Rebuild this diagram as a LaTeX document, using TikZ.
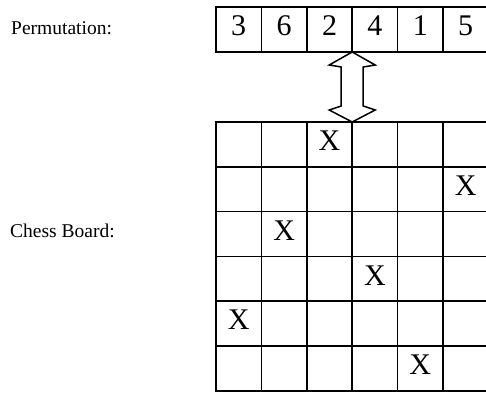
\documentclass[tikz,border=0pt]{standalone}
\usepackage{fontspec}
\setmainfont{Liberation Serif}
\usetikzlibrary{positioning,calc}
\begin{document}
\begin{tikzpicture}[x=1pt, y=-1pt]
    % Cell styles
    \tikzstyle{perm cell}=[draw, line width=1.5pt, minimum width=45.4pt, minimum height=45pt, inner sep=0pt, outer sep=0pt, text depth=7pt, font=\fontsize{30}{30}\selectfont]
    \tikzstyle{board cell}=[perm cell, minimum height=44.8pt]
    \tikzstyle{side label}=[anchor=base west, inner sep=0pt, font=\fontsize{19.5}{20}\selectfont]

    \useasboundingbox (0,0) rectangle (486,393);

    % --- Labels ---
    \node[side label] (perm label) at (11,35) {Permutation:};
    \node[side label] (board label) at (10,237) {Chess Board:};

    % --- Permutation row ---
    \node[perm cell] (p1) at (238.7,29.5) {3};
    \node[perm cell, right=0pt of p1] (p2) {6};
    \node[perm cell, right=0pt of p2] (p3) {2};
    \node[perm cell, right=0pt of p3] (p4) {4};
    \node[perm cell, right=0pt of p4] (p5) {1};
    \node[perm cell, right=0pt of p5] (p6) {5};

    % --- Chess board ---
    % Empty squares first
    \foreach \r in {1,...,6}
        \foreach \c in {1,...,6}
            \node[board cell] (b-\r-\c) at ({216+45.4*(\c-0.5)},{122+44.8*(\r-0.5)}) {};

    % Queens (row r gets column p_r)
    \node at (b-1-3) [board cell] (q1) {X};
    \node at (b-2-6) [board cell] (q2) {X};
    \node at (b-3-2) [board cell] (q3) {X};
    \node at (b-4-4) [board cell] (q4) {X};
    \node at (b-5-1) [board cell] (q5) {X};
    \node at (b-6-5) [board cell] (q6) {X};

    % --- Double arrow between row and board ---
    \coordinate (arrow top) at (p3.south east);
    \coordinate (arrow bottom) at (b-1-3.north east);
    \draw[line width=1.5pt, fill=white, line join=miter]
        (arrow top) -- ($(arrow top)+(23,13)$) -- ($(arrow top)+(11,15)$)
        -- ($(arrow bottom)+(11,-16)$) -- ($(arrow bottom)+(23,-12)$)
        -- (arrow bottom) -- ($(arrow bottom)+(-23,-12)$) -- ($(arrow bottom)+(-11,-16)$)
        -- ($(arrow top)+(-11,15)$) -- ($(arrow top)+(-23,13)$) -- cycle;

\end{tikzpicture}
\end{document}
